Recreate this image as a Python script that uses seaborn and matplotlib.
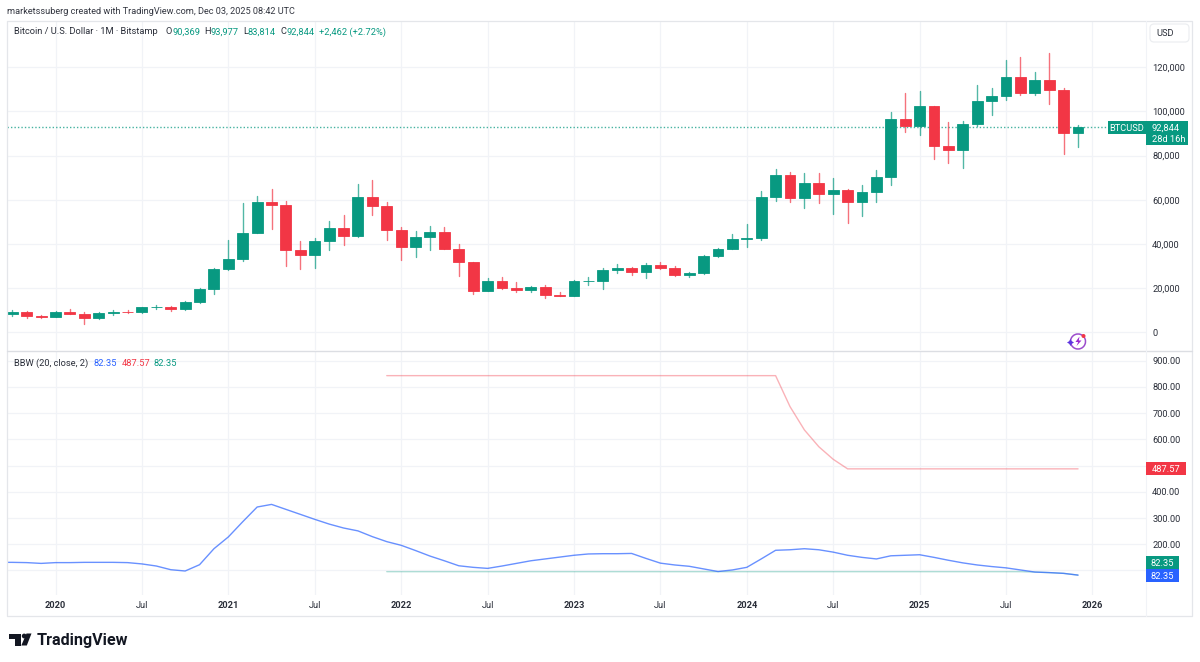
import matplotlib
matplotlib.use("Agg")
import matplotlib.pyplot as plt
from matplotlib.patches import Rectangle, FancyBboxPatch, Circle, Polygon, Arc
import pandas as pd
import seaborn as sns

# ---------- data ----------
opens = [8290, 9150, 7550, 7190, 9350, 8520, 6410, 8620, 9450, 9140, 11340, 11650, 10780, 13800, 19700,
         28900, 33100, 45200, 58800, 57700, 37300, 35040, 41460, 47100, 43800, 61300, 57000,
         46200, 38500, 43160, 45500, 37640, 31800, 18900, 23300, 20050, 19420, 20500, 17160,
         16540, 23130, 23140, 28470, 29240, 27210, 30470, 29230, 25930, 26970, 34650, 37720,
         42270, 42580, 61170, 71300, 60600, 67500, 62700, 64600, 58900, 63300, 70300, 96400,
         93400, 102400, 84350, 82500, 94200, 104600, 107100, 115700, 108200, 114000, 109500, 90369]
highs = [10370, 9500, 7750, 9550, 10500, 9150, 9460, 10060, 10380, 11440, 12470, 12070, 14100, 19900, 29000,
         41950, 58350, 61800, 64900, 59500, 41300, 42600, 50500, 52900, 67000, 69000, 59000,
         47900, 45800, 48200, 47500, 40000, 31900, 24700, 25200, 22800, 21000, 21450, 18400,
         23950, 25250, 29200, 31000, 29800, 31400, 31800, 30200, 27500, 35200, 38400, 44700,
         48900, 64000, 73800, 72700, 72000, 72000, 70000, 65000, 66500, 73600, 99800, 108300,
         109300, 102500, 95000, 95800, 112000, 110500, 123200, 124500, 117900, 126200, 110700, 93977]
lows = [7300, 6500, 6430, 6850, 8450, 3850, 6150, 8100, 8900, 8970, 10500, 9880, 10370, 13200, 17600,
        28100, 32300, 45000, 47000, 30000, 28800, 29300, 37300, 39600, 43300, 53300, 42000,
        32900, 34300, 37200, 37600, 25400, 17600, 18900, 19800, 18500, 18200, 15500, 16300,
        16500, 21400, 19600, 26950, 25800, 24800, 28900, 25400, 24900, 26500, 34100, 37600,
        38500, 41900, 59300, 59100, 56500, 58400, 53500, 49500, 52500, 58900, 66800, 90500,
        89200, 78200, 76600, 74400, 93300, 98200, 105100, 107300, 107200, 103500, 80600, 83814]
closes = [9150, 7550, 7190, 9350, 8520, 6410, 8620, 9450, 9140, 11340, 11650, 10780, 13800, 19700, 28900,
          33100, 45200, 58800, 57700, 37300, 35040, 41460, 47100, 43800, 61300, 57000, 46200,
          38500, 43160, 45500, 37640, 31800, 18900, 23300, 20050, 19420, 20500, 17160, 16540,
          23130, 23140, 28470, 29240, 27210, 30470, 29230, 25930, 26970, 34650, 37720, 42270,
          42580, 61170, 71300, 60600, 67500, 62700, 64600, 58900, 63300, 70300, 96400, 93400,
          102400, 84350, 82500, 94200, 104600, 107100, 115700, 108200, 114000, 109500, 90369, 92844]

bbw_months = list(range(-1, 75))
bbw = [131, 131, 130, 127, 130, 130, 131, 131, 131, 130, 125, 117, 103, 98, 122, 183,
       228, 286, 342, 352, 333, 314, 295, 277, 262, 251, 229, 210,
       196, 176, 155, 137, 118, 112, 108, 117, 127, 137, 144, 151,
       158, 163, 164, 164, 165, 146, 128, 121, 116, 106, 96, 102,
       112, 144, 177, 179, 183, 179, 170, 158, 150, 144, 156, 158,
       160, 150, 139, 129, 121, 115, 110, 102, 94, 92, 89, 82.35]
band_months = list(range(26, 75))
upper = [843] * 28 + [725, 636, 572, 524] + [487.57] * 17
lower = [95.5] * 45 + [94, 91.7, 89, 82.35]

price_ticks = [0, 20000, 40000, 60000, 80000, 100000, 120000]
bbw_ticks = [100, 200, 300, 400, 500, 600, 700, 800, 900]
bbw_labels = [None, "200.00", "300.00", "400.00", "500.00", "600.00", "700.00", "800.00", "900.00"]
time_ticks = [3, 9, 15, 21, 27, 33, 39, 45, 51, 57, 63, 69, 75]
time_labels = ["2020", "Jul", "2021", "Jul", "2022", "Jul", "2023", "Jul", "2024", "Jul", "2025", "Jul", "2026"]
last_close = 92844

# ---------- style ----------
GREEN, RED, BLUE = "#089981", "#F23645", "#2962FF"
GRID, FRAME, INK = "#f1f3f7", "#e4e6ea", "#2a2e39"
sns.set_theme(style="white")
plt.rcParams["font.family"] = ["Roboto", "DejaVu Sans"]
W, H = 1200, 662
FS = 6.7

fig = plt.figure(figsize=(12, 6.62), dpi=100, facecolor="white")


def pane(x0, y0, x1, y1):
    return fig.add_axes([x0 / W, 1 - y1 / H, (x1 - x0) / W, (y1 - y0) / H], facecolor="none")


ax = pane(7, 21, 1146, 350)
ax2 = pane(7, 351, 1146, 595)
xlim = (-0.37, 78.72)

# ---------- candles ----------
months = list(range(len(closes)))
up = [c >= o for o, c in zip(opens, closes)]
colors = [GREEN if u else RED for u in up]
bottoms = [min(o, c) for o, c in zip(opens, closes)]
heights = [abs(c - o) for o, c in zip(opens, closes)]

wicks = pd.DataFrame({
    "month": months * 2,
    "price": lows + highs,
    "candle": months * 2,
    "dir": ["up" if u else "down" for u in up] * 2,
})
sns.lineplot(data=wicks, x="month", y="price", units="candle", hue="dir", estimator=None, sort=False,
             palette={"up": GREEN, "down": RED}, lw=1.0, alpha=0.7, legend=False, ax=ax, zorder=2)

bodies = pd.DataFrame({"month": months, "height": heights})
sns.barplot(data=bodies, x="month", y="height", native_scale=True, bottom=bottoms, width=0.76,
            errorbar=None, color=GREEN, saturation=1, ax=ax, zorder=3)
for patch, col in zip(ax.patches, colors):
    patch.set_facecolor(col)
    patch.set_edgecolor(col)
    patch.set_linewidth(0.6)

ax.axhline(last_close, color=GREEN, lw=1.0, ls=(0, (1, 1.5)), alpha=0.75, zorder=1)

# ---------- BBW ----------
sns.lineplot(x=bbw_months, y=bbw, color=BLUE, lw=1.0, alpha=0.7, ax=ax2, zorder=3)
sns.lineplot(x=band_months, y=upper, color=RED, lw=1.0, alpha=0.38, ax=ax2, zorder=2)
sns.lineplot(x=band_months, y=lower, color=GREEN, lw=1.0, alpha=0.32, ax=ax2, zorder=2)

# ---------- axes ----------
for a, ylim, yt in ((ax, (-7911, 140800), price_ticks), (ax2, (6.5, 937), bbw_ticks)):
    a.set_xlim(*xlim)
    a.set_ylim(*ylim)
    a.set_xlabel("")
    a.set_ylabel("")
    a.set_xticks(time_ticks)
    a.set_yticks(yt)
    a.grid(True, color=GRID, lw=0.9)
    a.set_axisbelow(True)
    a.tick_params(length=0, labelleft=False, labelbottom=False)
    for s in a.spines.values():
        s.set_visible(False)

ax2.tick_params(labelbottom=True, pad=4.5, labelsize=FS, labelcolor=INK)
ax2.set_xticklabels(time_labels)
for lab, txt in zip(ax2.get_xticklabels(), time_labels):
    lab.set_fontweight("bold" if txt != "Jul" else "normal")

ax.yaxis.tick_right()
ax2.yaxis.tick_right()
ax.tick_params(labelright=True, labelsize=FS, labelcolor=INK, pad=4.5)
ax.set_yticklabels([f"{v:,}" for v in price_ticks])
ax2.tick_params(labelright=True, labelsize=FS, labelcolor=INK, pad=4.5)
ax2.set_yticklabels([b if b else "" for b in bbw_labels])

# ---------- overlay in pixels ----------
ov = fig.add_axes([0, 0, 1, 1], facecolor="none", zorder=10)
ov.set_xlim(0, W)
ov.set_ylim(H, 0)
ov.axis("off")


def ypx(a, v):
    return H - a.transData.transform((0, v))[1]


def tag(x0, x1, yc, h, col, txt):
    ov.add_patch(Rectangle((x0, yc - h / 2), x1 - x0, h, fc=col, ec="none", zorder=3))
    ov.text((x0 + x1) / 2, yc, txt, color="white", fontsize=FS, ha="center", va="center_baseline", zorder=4)


def label(x, y, txt, col=INK, **kw):
    ov.text(x, y, txt, color=col, fontsize=kw.pop("fontsize", FS), va="center_baseline", **kw)


# frame
ov.plot([7, 7, 1192, 1192, 7], [21, 616, 616, 21, 21], color=FRAME, lw=0.9)
ov.plot([7, 1192], [350.5, 350.5], color="#dcdee3", lw=1.0)
ov.plot([1146, 1146], [21, 616], color=GRID, lw=0.8)

# headers
label(7, 10, "marketssuberg created with TradingView.com, Dec 03, 2025 08:42 UTC", fontsize=6.55, col="#333640")
label(13.5, 31, "Bitcoin / U.S. Dollar · 1M · Bitstamp")
for letter, lx, val, vx in (("O", 165.5, "90,369", 172.5), ("H", 204.5, "93,977", 210.5),
                            ("L", 243, "83,814", 248), ("C", 280.5, "92,844", 286.5)):
    label(lx, 31, letter)
    label(vx, 31, val, col=GREEN)
label(319, 31, "+2,462 (+2.72%)", col=GREEN)

label(14, 362, "BBW (20, close, 2)")
label(93.5, 362, "82.35", col=BLUE)
label(122, 362, "487.57", col=RED)
label(154, 362, "82.35", col=GREEN)

# USD button
ov.add_patch(FancyBboxPatch((1150, 24), 39, 18, boxstyle="round,pad=0,rounding_size=4", fc="white", ec="#eceef1", lw=0.9, zorder=3))
label(1156, 33, "USD", zorder=4)

# price tags
yc = ypx(ax, last_close)
tag(1108, 1146, yc, 13, GREEN, "BTCUSD")
ov.add_patch(Rectangle((1146, yc - 6.5), 42, 24, fc=GREEN, ec="none", zorder=3))
ov.text(1152, yc, "92,844", color="white", fontsize=FS, va="center_baseline", zorder=4)
ov.text(1152, yc + 11, "28d 16h", color="white", fontsize=FS, va="center_baseline", zorder=4)

tag(1146, 1186, ypx(ax2, 487.57), 13, RED, "487.57")
tag(1146, 1178.5, ypx(ax2, 82.35) - 12.5, 13, GREEN, "82.35")
tag(1146, 1178.5, ypx(ax2, 82.35), 13, BLUE, "82.35")

# lightning badge
ov.add_patch(Arc((1078, 341.5), 15, 15, theta1=0, theta2=360, ec="#9c4dcc", lw=1.1, zorder=3))
ov.add_patch(Polygon([(1079.5, 336.5), (1075.5, 342), (1078.2, 342), (1076.5, 346), (1081.5, 340.5), (1078.8, 340.5)],
                     fc="#9c27d0", ec="none", zorder=4))
ov.add_patch(Polygon([(1070.5, 339), (1071.8, 341.2), (1074, 342.5), (1071.8, 343.8), (1070.5, 346), (1069.2, 343.8),
                      (1067, 342.5), (1069.2, 341.2)], fc="#5e35e0", ec="none", zorder=4))
ov.add_patch(Circle((1083.5, 336), 2, fc=RED, ec="none", zorder=5))

# TradingView logo
ov.add_patch(Polygon([(9.3, 633.5), (21, 633.5), (21, 645.5), (14.5, 645.5), (14.5, 638.5), (9.3, 638.5)], fc="#131722", ec="none"))
ov.add_patch(Circle((24.2, 636), 2.4, fc="#131722", ec="none"))
ov.add_patch(Polygon([(26.5, 633.5), (31.5, 633.5), (26.8, 645.5), (21.3, 645.5)], fc="#131722", ec="none"))
ov.text(36.5, 639.5, "TradingView", color="#131722", fontsize=11.6, fontweight="bold",
        family=["Roboto", "DejaVu Sans"], va="center_baseline")

fig.savefig("out.png", dpi=100, facecolor="white")
